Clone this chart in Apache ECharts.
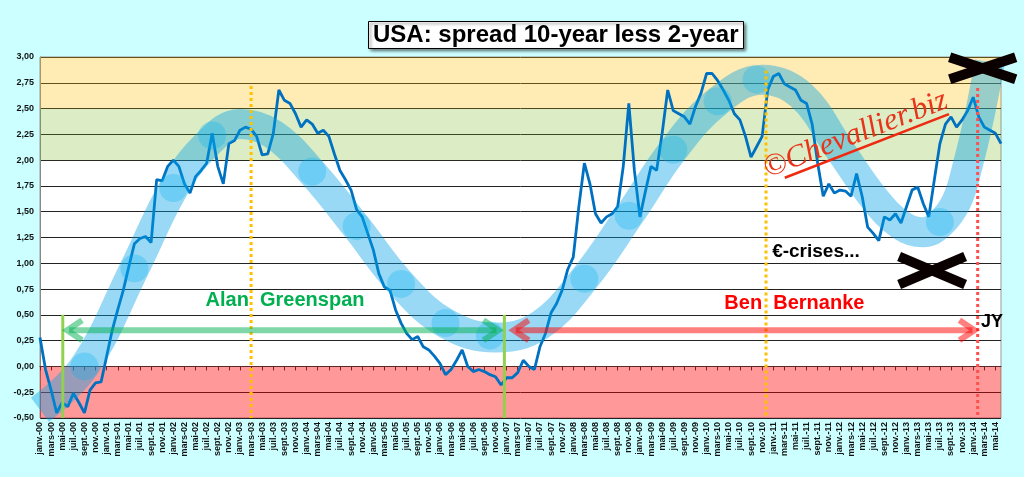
<!DOCTYPE html>
<html>
<head>
<meta charset="utf-8">
<script src="https://cdn.jsdelivr.net/npm/echarts@6/dist/echarts.min.js"></script>
<style>
  html, body { margin: 0; padding: 0; background: #ccffff; }
  #chart { width: 1024px; height: 477px; }
</style>
</head>
<body>
<div id="chart"></div>
<script>
// month names / years for the axis labels
var monthNames = ['janv.', 'févr.', 'mars', 'avr.', 'mai', 'juin', 'juil.', 'août', 'sept.', 'oct.', 'nov.', 'déc.'];
var years = ['00', '01', '02', '03', '04', '05', '06', '07', '08', '09', '10', '11', '12', '13', '14'];

// spread 10y - 2y, one value per month, janv.-00 .. juin-14
var spread = [
  0.28, -0.03, -0.23, -0.45, -0.35, -0.39, -0.26, -0.35, -0.45, -0.23, -0.16, -0.15,
  0.10, 0.35, 0.55, 0.74, 0.97, 1.19, 1.24, 1.26, 1.20, 1.81, 1.80, 1.94,
  2.00, 1.94, 1.77, 1.68, 1.84, 1.90, 1.97, 2.26, 1.94, 1.77, 2.16, 2.19,
  2.29, 2.32, 2.30, 2.23, 2.05, 2.06, 2.26, 2.68, 2.58, 2.55, 2.45, 2.32,
  2.39, 2.35, 2.26, 2.29, 2.23, 2.06, 1.90, 1.81, 1.71, 1.52, 1.45, 1.29,
  1.13, 0.90, 0.77, 0.74, 0.55, 0.42, 0.32, 0.26, 0.29, 0.19, 0.16, 0.10,
  0.03, -0.08, -0.03, 0.06, 0.16, 0.00, -0.05, -0.03, -0.05, -0.08, -0.10, -0.18,
  -0.11, -0.11, -0.06, 0.06, 0.00, -0.03, 0.19, 0.32, 0.52, 0.61, 0.74, 0.94,
  1.06, 1.55, 1.97, 1.77, 1.48, 1.39, 1.45, 1.48, 1.55, 1.94, 2.55, 1.90,
  1.45, 1.70, 1.94, 1.90, 2.26, 2.68, 2.48, 2.45, 2.42, 2.35, 2.52, 2.65,
  2.84, 2.84, 2.77, 2.68, 2.58, 2.45, 2.39, 2.23, 2.03, 2.13, 2.23, 2.68,
  2.81, 2.84, 2.74, 2.71, 2.68, 2.58, 2.55, 2.35, 1.97, 1.65, 1.77, 1.68,
  1.71, 1.70, 1.65, 1.87, 1.65, 1.35, 1.29, 1.22, 1.45, 1.42, 1.48, 1.39,
  1.55, 1.71, 1.74, 1.58, 1.45, 1.81, 2.16, 2.35, 2.42, 2.32, 2.39, 2.48,
  2.61, 2.42, 2.32, 2.29, 2.26, 2.16
];

// hand drawn wave (month index, level)
var waveIdx = [0, 8, 17, 24, 30, 36, 42, 49, 57, 65, 73, 82, 90, 98, 106, 114, 122, 130, 137, 144, 150, 155, 159, 162, 165, 167, 169, 171];
var waveVal = [-0.42, 0.0, 0.95, 1.72, 2.15, 2.35, 2.25, 1.88, 1.35, 0.80, 0.42, 0.28, 0.40, 0.85, 1.46, 2.10, 2.57, 2.78, 2.63, 2.10, 1.64, 1.37, 1.30, 1.38, 1.60, 1.95, 2.40, 2.95];
// round dots on the wave
var dotIdx = [8, 17, 24, 31, 49, 57, 65, 73, 81, 98, 106, 114, 122, 129, 162];
var dotVal = [0.0, 0.95, 1.73, 2.24, 1.89, 1.36, 0.80, 0.42, 0.30, 0.85, 1.46, 2.10, 2.57, 2.78, 1.40];

var categories = [];
for (var i = 0; i < spread.length; i++) {
  categories.push(monthNames[i % 12] + '-' + years[Math.floor(i / 12)]);
}

var chart = echarts.init(document.getElementById('chart'));

var wave = waveIdx.map(function (m, k) { return [m, waveVal[k]]; });
var dots = dotIdx.map(function (m, k) { return [m, dotVal[k]]; });

chart.setOption({
  backgroundColor: '#ccffff',
  animation: false,
  title: {
    text: 'USA: spread 10-year less 2-year',
    left: 368,
    top: 21,
    padding: [2, 5],
    backgroundColor: '#fff',
    borderColor: '#000',
    borderWidth: 1,
    shadowBlur: 3,
    shadowColor: 'rgba(0,0,0,0.5)',
    shadowOffsetX: 2,
    shadowOffsetY: 2,
    textStyle: { fontFamily: 'Liberation Sans', fontSize: 24, fontWeight: 'bold', color: '#000' }
  },
  grid: {
    left: 40, right: 23, top: 57, bottom: 59,
    show: true, backgroundColor: '#fff', borderColor: '#999', borderWidth: 1
  },
  xAxis: {
    type: 'category',
    data: categories,
    boundaryGap: false,
    axisLine: { lineStyle: { color: '#333' } },
    axisTick: { interval: 1, length: 4, lineStyle: { color: '#333' } },
    axisLabel: {
      interval: 1, rotate: 90, fontSize: 9, fontWeight: 'bold',
      fontFamily: 'Liberation Sans', color: '#111', margin: 4
    },
    splitLine: { show: false }
  },
  yAxis: {
    type: 'value',
    min: -0.5, max: 3, interval: 0.25,
    axisLine: { show: true, lineStyle: { color: '#888' } },
    axisTick: { show: false },
    axisLabel: {
      fontSize: 9, fontWeight: 'bold', fontFamily: 'Liberation Sans', color: '#111', margin: 6,
      formatter: function (v) { return v.toFixed(2).replace('.', ','); }
    },
    splitLine: { lineStyle: { color: '#222', width: 1 } }
  },
  series: [
    {
      type: 'line', data: spread, z: 2,
      showSymbol: false, symbol: 'none',
      lineStyle: { color: '#0070c0', width: 2.8 }
    },
    {
      type: 'line', data: wave, z: 3, smooth: 0.4,
      showSymbol: false, symbol: 'none', silent: true,
      lineStyle: { color: 'rgba(0,160,230,0.4)', width: 30, cap: 'butt' }
    },
    {
      type: 'scatter', data: dots, z: 3, silent: true,
      symbolSize: 28,
      itemStyle: { color: 'rgba(0,175,240,0.35)' }
    },
    {
      type: 'line', data: [], z: 5, silent: true,
      markArea: {
        silent: true,
        data: [
          [{ yAxis: -0.5, itemStyle: { color: 'rgba(255,0,0,0.4)' } }, { yAxis: 0 }],
          [{ yAxis: 2.0, itemStyle: { color: 'rgba(119,187,35,0.26)' } }, { yAxis: 2.5 }],
          [{ yAxis: 2.5, itemStyle: { color: 'rgba(255,188,5,0.3)' } }, { yAxis: 3.0 }]
        ]
      }
    }
  ]
});

// annotations placed through the axes
function px(m, v) {
  var a = chart.convertToPixel({ gridIndex: 0 }, [0, v]);
  var b = chart.convertToPixel({ gridIndex: 0 }, [1, v]);
  return [a[0] + (b[0] - a[0]) * m, a[1]];
}

function vline(m, v1, v2, color, width, dash, z) {
  var p = px(m, v1), q = px(m, v2);
  return {
    type: 'line', z: z, silent: true,
    shape: { x1: p[0], y1: p[1], x2: q[0], y2: q[1] },
    style: { stroke: color, lineWidth: width, lineDash: dash }
  };
}

function arrow(m1, m2, v, color) {
  var p = px(m1, v), q = px(m2, v);
  var h = 16, w = 10;
  return [
    { type: 'line', z: 20, silent: true, shape: { x1: p[0] + 3, y1: p[1], x2: q[0] - 3, y2: q[1] },
      style: { stroke: color, lineWidth: 6 } },
    { type: 'polyline', z: 20, silent: true, shape: { points: [[p[0] + h, p[1] - w], [p[0] + 1, p[1]], [p[0] + h, p[1] + w]] },
      style: { stroke: color, lineWidth: 6, fill: null } },
    { type: 'polyline', z: 20, silent: true, shape: { points: [[q[0] - h, q[1] - w], [q[0] - 1, q[1]], [q[0] - h, q[1] + w]] },
      style: { stroke: color, lineWidth: 6, fill: null } }
  ];
}

function cross(m, v, hw, hh) {
  var c = px(m, v);
  return [
    { type: 'line', z: 22, silent: true, shape: { x1: c[0] - hw, y1: c[1] - hh, x2: c[0] + hw, y2: c[1] + hh },
      style: { stroke: '#0a0000', lineWidth: 10 } },
    { type: 'line', z: 22, silent: true, shape: { x1: c[0] - hw, y1: c[1] + hh, x2: c[0] + hw, y2: c[1] - hh },
      style: { stroke: '#0a0000', lineWidth: 10 } }
  ];
}

function label(m, v, text, color, size, weight) {
  var p = px(m, v);
  return {
    type: 'text', z: 21, silent: true, x: p[0], y: p[1],
    style: {
      text: text, fill: color, fontSize: size, fontWeight: weight || 'bold',
      fontFamily: 'Liberation Sans', textAlign: 'left', textVerticalAlign: 'middle'
    }
  };
}

var wm = px(131.2, 1.80);
var elements = [
  vline(38, 2.72, -0.5, '#ffc000', 3, [3, 3], 4),
  vline(130.7, 2.87, -0.5, '#ffc000', 3, [3, 3], 4),
  vline(168.8, 2.70, -0.5, '#ff5050', 3, [3, 3], 4),
  vline(4.1, 0.5, -0.5, '#92d050', 3, null, 19),
  vline(83.6, 0.5, -0.5, '#92d050', 3, null, 19),
  label(29.8, 0.64, 'Alan  Greenspan', '#00b050', 20),
  label(123.2, 0.61, 'Ben  Bernanke', '#ff0000', 20),
  label(131.8, 1.11, '€-crises...', '#000', 19),
  label(169.4, 0.43, 'JY', '#000', 18),
  {
    type: 'group', x: wm[0], y: wm[1], rotation: 0.37, z: 21, silent: true,
    children: [
      { type: 'text', z: 21, x: 0, y: 4,
        style: { text: '©Chevallier.biz', fill: '#e8341a', fontSize: 31, fontStyle: 'italic',
          fontFamily: 'Liberation Serif', textAlign: 'left', textVerticalAlign: 'bottom' } },
      { type: 'line', z: 21, shape: { x1: 16, y1: 3, x2: 192, y2: 3 },
        style: { stroke: '#ee2a10', lineWidth: 2.5 } }
    ]
  }
];
elements = elements
  .concat(arrow(4.7, 82.7, 0.35, 'rgba(0,176,80,0.5)'))
  .concat(arrow(85.1, 168.4, 0.35, 'rgba(255,0,0,0.5)'))
  .concat(cross(169.7, 2.89, 33, 11))
  .concat(cross(160.6, 0.93, 33, 14));

chart.setOption({ graphic: { elements: elements } });
</script>
</body>
</html>
